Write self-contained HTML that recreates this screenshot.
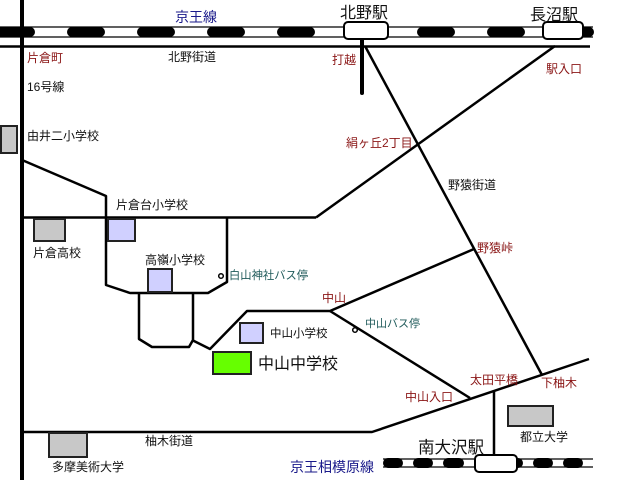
<!DOCTYPE html>
<html><head><meta charset="utf-8"><style>
html,body{margin:0;padding:0;background:#fff;}
svg{display:block;}
text{font-family:"Liberation Sans","Noto Sans CJK JP",sans-serif;font-size:12px;fill:#111;}
.r{fill:#8a1515;}
.t{fill:#1f5a5a;}
.b{fill:#1a1a8a;}
</style></head><body>
<svg width="640" height="480" viewBox="0 0 640 480" xmlns="http://www.w3.org/2000/svg">
<rect width="640" height="480" fill="#fff"/>
<!-- top rail -->
<line x1="0" y1="27" x2="593" y2="27" stroke="#000" stroke-width="1.2"/>
<line x1="0" y1="37" x2="593" y2="37" stroke="#000" stroke-width="1.2"/>
<g fill="#000">
<rect x="-5" y="27" width="40" height="10" rx="5"/>
<rect x="67" y="27" width="38" height="10" rx="5"/>
<rect x="137" y="27" width="38" height="10" rx="5"/>
<rect x="207" y="27" width="38" height="10" rx="5"/>
<rect x="277" y="27" width="38" height="10" rx="5"/>
<rect x="417" y="27" width="38" height="10" rx="5"/>
<rect x="487" y="27" width="38" height="10" rx="5"/>
<rect x="560" y="27" width="34" height="10" rx="5"/>
</g>
<!-- roads -->
<g stroke="#000" stroke-width="2.5" fill="none" stroke-linejoin="round">
<line x1="0" y1="46.5" x2="590" y2="46.5"/>
<line x1="365" y1="46" x2="542" y2="375"/>
<line x1="555" y1="46" x2="316" y2="217.5"/>
<line x1="22" y1="217.5" x2="316" y2="217.5"/>
<polyline points="22,160 106,196 106,285 130,293 208,293 227,282 227,217"/>
<polyline points="139,293 139,339 152,347 189,347 193,340 193,293"/>
<polyline points="192,340 210,349 247,311 330,311 474,249"/>
<line x1="330" y1="311" x2="470" y2="398"/>
<polyline points="22,432 372,432 589,359"/>
<line x1="494" y1="390" x2="494" y2="456"/>
</g>
<line x1="22" y1="0" x2="22" y2="480" stroke="#000" stroke-width="4"/>
<line x1="362" y1="38" x2="362" y2="93" stroke="#000" stroke-width="4" stroke-linecap="round"/>
<!-- stations top -->
<rect x="344" y="22" width="44" height="17" rx="4" fill="#fff" stroke="#000" stroke-width="2"/>
<rect x="543" y="22" width="40" height="17" rx="4" fill="#fff" stroke="#000" stroke-width="2"/>
<!-- bottom rail -->
<line x1="383" y1="459" x2="593" y2="459" stroke="#000" stroke-width="1.2"/>
<line x1="383" y1="467" x2="593" y2="467" stroke="#000" stroke-width="1.2"/>
<g fill="#000">
<rect x="383" y="458" width="20" height="10" rx="5"/>
<rect x="413" y="458" width="20" height="10" rx="5"/>
<rect x="443" y="458" width="21" height="10" rx="5"/>
<rect x="503" y="458" width="20" height="10" rx="5"/>
<rect x="533" y="458" width="20" height="10" rx="5"/>
<rect x="563" y="458" width="20" height="10" rx="5"/>
</g>
<rect x="475" y="455" width="42" height="17" rx="4" fill="#fff" stroke="#000" stroke-width="2"/>
<!-- boxes -->
<g stroke="#222" stroke-width="2">
<rect x="1" y="126" width="16" height="27" fill="#c8c8c8"/>
<rect x="34" y="219" width="31" height="22" fill="#c8c8c8"/>
<rect x="108" y="219" width="27" height="22" fill="#d0d0ff"/>
<rect x="148" y="269" width="24" height="23" fill="#d0d0ff"/>
<rect x="240" y="323" width="23" height="20" fill="#d0d0ff"/>
<rect x="213" y="352" width="38" height="22" fill="#66ff00"/>
<rect x="49" y="433" width="38" height="24" fill="#c8c8c8"/>
<rect x="508" y="406" width="45" height="20" fill="#c8c8c8"/>
</g>
<circle cx="221" cy="276" r="2.3" fill="#fff" stroke="#000" stroke-width="1.5"/>
<circle cx="355" cy="330" r="2.3" fill="#fff" stroke="#000" stroke-width="1.5"/>
<!-- labels -->
<text x="175" y="22" class="b" style="font-size:14px">京王線</text>
<text x="340" y="18" style="font-size:16px">北野駅</text>
<text x="530" y="20" style="font-size:16px">長沼駅</text>
<text x="27" y="62" class="r">片倉町</text>
<text x="168" y="61">北野街道</text>
<text x="27" y="91">16号線</text>
<text x="27" y="140">由井二小学校</text>
<text x="332" y="64" class="r">打越</text>
<text x="546" y="73" class="r">駅入口</text>
<text x="346" y="147" class="r">絹ヶ丘2丁目</text>
<text x="448" y="189">野猿街道</text>
<text x="116" y="209">片倉台小学校</text>
<text x="33" y="257">片倉高校</text>
<text x="145" y="264">高嶺小学校</text>
<text x="229" y="279" class="t" style="font-size:11.3px">白山神社バス停</text>
<text x="477" y="252" class="r">野猿峠</text>
<text x="322" y="302" class="r">中山</text>
<text x="365" y="327" class="t" style="font-size:11px">中山バス停</text>
<text x="270" y="337" style="font-size:11.5px">中山小学校</text>
<text x="258" y="369" style="font-size:16px">中山中学校</text>
<text x="470" y="384" class="r">太田平橋</text>
<text x="541" y="387" class="r">下柚木</text>
<text x="405" y="401" class="r">中山入口</text>
<text x="520" y="441">都立大学</text>
<text x="145" y="445">柚木街道</text>
<text x="52" y="471">多摩美術大学</text>
<text x="290" y="472" class="b" style="font-size:14px">京王相模原線</text>
<text x="418" y="453" style="font-size:16.5px">南大沢駅</text>
</svg>
</body></html>
